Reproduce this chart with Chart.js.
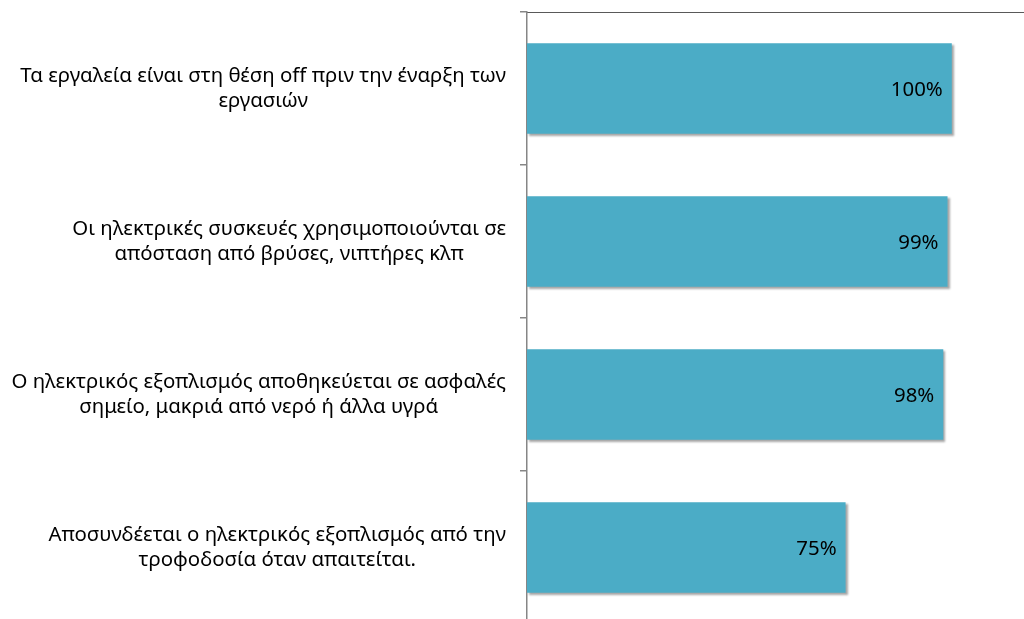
<!DOCTYPE html>
<html>
<head>
<meta charset="utf-8">
<script src="https://cdn.jsdelivr.net/npm/chart.js@4/dist/chart.umd.min.js"></script>
<style>
    html, body { margin: 0; padding: 0; overflow: hidden; background: #fff; }
    #wrap { position: relative; width: 1024px; height: 624px; }
</style>
</head>
<body>
<div id="wrap"><canvas id="barChart"></canvas></div>
<script>
const categories = [
    ['Τα εργαλεία είναι στη θέση off πριν την έναρξη των', 'εργασιών'],
    ['Οι ηλεκτρικές συσκευές χρησιμοποιούνται σε', 'απόσταση από βρύσες, νιπτήρες κλπ'],
    ['Ο ηλεκτρικός εξοπλισμός αποθηκεύεται σε ασφαλές', 'σημείο, μακριά από νερό ή άλλα υγρά'],
    ['Αποσυνδέεται ο ηλεκτρικός εξοπλισμός από την', 'τροφοδοσία όταν απαιτείται.']
];
const percentValues = [100, 99, 98, 75];

const labelFont = '20.4px "Noto Sans"';

// soft drop shadow on the bars, like the original office chart
const barShadow = {
    id: 'barShadow',
    beforeDatasetsDraw(chart) {
        const ctx = chart.ctx;
        ctx.save();
        ctx.shadowColor = 'rgba(0, 0, 0, 0.35)';
        ctx.shadowOffsetX = 2;
        ctx.shadowOffsetY = 2;
        ctx.shadowBlur = 2;
    },
    afterDatasetsDraw(chart) {
        chart.ctx.restore();
    }
};

// category labels: block right-aligned next to the axis, lines centred inside the block
const categoryLabels = {
    id: 'categoryLabels',
    afterDraw(chart) {
        const ctx = chart.ctx;
        const yScale = chart.scales.y;
        const rightEdge = chart.chartArea.left - 21;
        ctx.save();
        ctx.font = labelFont;
        ctx.fillStyle = '#000';
        ctx.textAlign = 'center';
        ctx.textBaseline = 'middle';
        categories.forEach((lines, i) => {
            const widest = Math.max(...lines.map(l => ctx.measureText(l).width));
            const cx = rightEdge - widest / 2;
            const cy = yScale.getPixelForValue(i);
            const lineHeight = 25;
            lines.forEach((line, j) => {
                ctx.fillText(line, cx, cy + (j - (lines.length - 1) / 2) * lineHeight);
            });
        });
        ctx.restore();
    }
};

// value labels inside the end of each bar
const valueLabels = {
    id: 'valueLabels',
    afterDatasetsDraw(chart) {
        const ctx = chart.ctx;
        const meta = chart.getDatasetMeta(0);
        ctx.save();
        ctx.font = labelFont;
        ctx.fillStyle = '#000';
        ctx.textAlign = 'right';
        ctx.textBaseline = 'middle';
        meta.data.forEach((bar, i) => {
            ctx.fillText(percentValues[i] + '%', bar.x - 9, bar.y + 2);
        });
        ctx.restore();
    }
};

const ctx = document.getElementById('barChart').getContext('2d');

new Chart(ctx, {
    type: 'bar',
    data: {
        labels: categories,
        datasets: [{
            data: percentValues,
            backgroundColor: '#4BACC6',
            borderWidth: 0,
            categoryPercentage: 1,
            barPercentage: 0.59
        }]
    },
    options: {
        indexAxis: 'y',
        responsive: true,
        maintainAspectRatio: false,
        animation: false,
        layout: { padding: 0 },
        scales: {
            x: {
                position: 'top',
                min: 0,
                max: 117,
                ticks: { display: false },
                grid: { display: false, drawTicks: false },
                border: { display: true, color: '#595959', width: 1 },
                afterFit: (scale) => { scale.height = 12; }
            },
            y: {
                ticks: { display: false },
                grid: {
                    drawOnChartArea: false,
                    drawTicks: true,
                    tickLength: 7,
                    color: '#868686',
                    lineWidth: 1.5
                },
                border: { display: true, color: '#868686', width: 1.5 },
                afterFit: (scale) => { scale.width = 527; }
            }
        },
        plugins: {
            legend: { display: false },
            tooltip: { enabled: false }
        }
    },
    plugins: [barShadow, valueLabels, categoryLabels]
});
</script>
</body>
</html>
